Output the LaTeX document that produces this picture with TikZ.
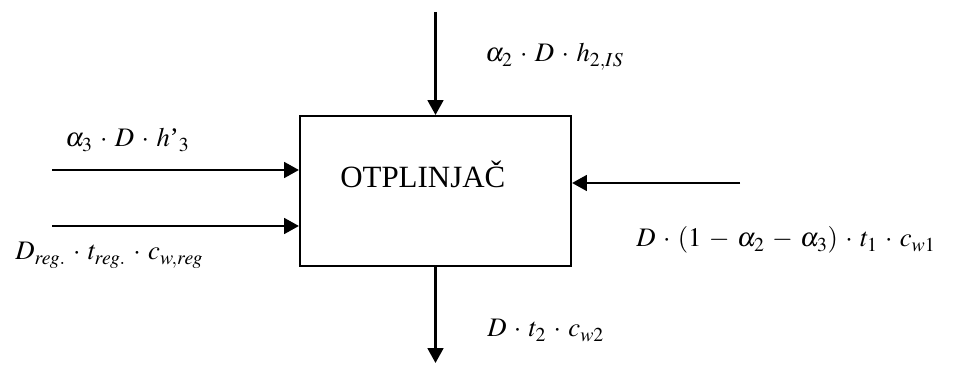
\documentclass[tikz,border=0pt]{standalone}
\usepackage{mathptmx}
\usepackage[no-math]{fontspec}
\setmainfont{Liberation Serif}
\usepackage{tikz}
\usetikzlibrary{arrows.meta,positioning}
\newcommand{\eqnfont}{\fontsize{19}{23}\selectfont\medmuskip=5mu\relax}
\tikzstyle{flow} = [draw, line width=2pt, -{Triangle[length=10.5pt,width=11pt]}]
\tikzstyle{eqn} = [font=\eqnfont, anchor=base west, inner sep=0pt]

\begin{document}
\begin{tikzpicture}[x=0.025cm,y=-0.025cm]
      \useasboundingbox (0,0) rectangle (954,365);

      % degasser block
      \node[draw, line width=1.4pt, minimum width=6.775cm, minimum height=3.75cm, inner sep=0pt] (otp) at (435.5,191) {};
      \node[font=\fontsize{22}{26}\selectfont, anchor=base west, inner sep=0pt] (name) at (340,188) {OTPLINJAČ};

      % free ends of the streams
      \coordinate (in3) at (52,170);
      \coordinate (inreg) at (52,226);
      \coordinate (in2) at (435.5,12);
      \coordinate (in1) at (740,183);
      \coordinate (out2) at (435.5,363);

      % streams
      \draw[flow] (in3) -- (in3 -| otp.west);
      \draw[flow] (inreg) -- (inreg -| otp.west);
      \draw[flow] (in2) -- (otp.north);
      \draw[flow] (in1) -- (in1 -| otp.east);
      \draw[flow] (otp.south) -- (out2);

      % stream labels
      \node[eqn] (l3) at (65,147) {$\alpha_3\cdot D\cdot h\mbox{'}_3$};
      \node[eqn] (lreg) at (15,260) {$D_{reg.}\cdot t_{reg.}\cdot c_{w,reg}$};
      \node[eqn] (l2) at (485,62) {$\alpha_2\cdot D\cdot h_{2,IS}$};
      \node[eqn] (l1) at (636,247) {$D\cdot(1-\alpha_2-\alpha_3)\cdot t_1\cdot c_{w1}$};
      \node[eqn] (lout) at (487,337) {$D\cdot t_2\cdot c_{w2}$};
    \end{tikzpicture}
\end{document}
